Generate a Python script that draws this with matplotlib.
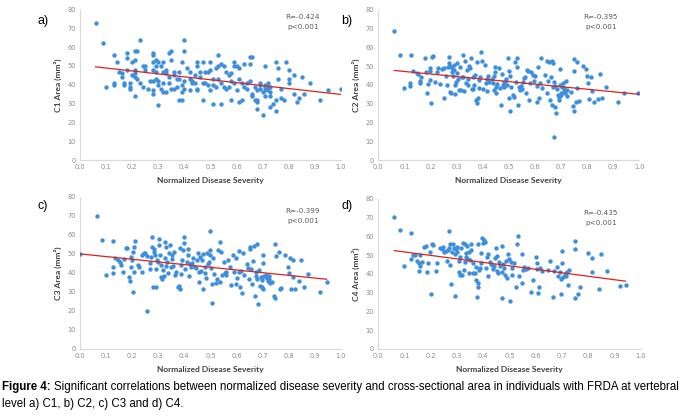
import matplotlib
matplotlib.use("Agg")
import matplotlib.pyplot as plt
import numpy as np

# points: (normalized disease severity, area in mm^2)
c1_points = [
    (0.06, 73), (0.09, 62), (0.10, 39), (0.13, 40), (0.13, 41), (0.13, 56), (0.14, 52), (0.15, 47),
    (0.16, 46), (0.16, 44), (0.17, 41), (0.17, 40), (0.18, 48), (0.18, 57), (0.19, 41), (0.19, 39),
    (0.19, 38), (0.20, 45), (0.18, 54), (0.20, 52), (0.21, 53), (0.21, 48), (0.21, 46), (0.21, 34),
    (0.21, 58), (0.22, 58), (0.21, 44), (0.22, 43), (0.23, 41), (0.23, 64), (0.24, 39), (0.24, 50),
    (0.25, 50), (0.25, 48), (0.26, 38), (0.27, 42), (0.28, 42), (0.28, 57), (0.28, 56), (0.28, 52),
    (0.29, 50), (0.28, 48), (0.28, 37), (0.28, 35), (0.29, 47), (0.29, 43), (0.29, 53), (0.30, 29),
    (0.30, 52), (0.30, 42), (0.30, 40), (0.31, 50), (0.31, 38), (0.32, 47), (0.32, 36), (0.32, 52),
    (0.32, 41), (0.33, 36), (0.33, 48), (0.33, 46), (0.34, 57), (0.34, 44), (0.34, 41), (0.35, 38),
    (0.35, 58), (0.35, 53), (0.36, 45), (0.36, 38), (0.36, 47), (0.37, 43), (0.37, 39), (0.38, 32),
    (0.38, 47), (0.38, 43), (0.39, 32), (0.39, 36), (0.39, 52), (0.39, 40), (0.40, 38), (0.40, 64),
    (0.40, 58), (0.40, 42), (0.41, 49), (0.42, 37), (0.42, 43), (0.42, 47), (0.43, 42), (0.43, 41),
    (0.44, 45), (0.44, 41), (0.45, 52), (0.45, 50), (0.45, 37), (0.45, 38), (0.46, 47), (0.46, 44),
    (0.47, 52), (0.47, 41), (0.47, 32), (0.48, 47), (0.48, 41), (0.49, 40), (0.49, 47), (0.50, 48),
    (0.50, 37), (0.50, 52), (0.51, 40), (0.51, 30), (0.51, 43), (0.52, 49), (0.52, 39), (0.53, 56),
    (0.53, 50), (0.53, 43), (0.54, 30), (0.54, 51), (0.54, 41), (0.55, 50), (0.55, 39), (0.56, 38),
    (0.56, 47), (0.57, 45), (0.57, 39), (0.58, 46), (0.58, 42), (0.58, 32), (0.59, 52), (0.59, 50),
    (0.59, 41), (0.60, 37), (0.60, 50), (0.61, 43), (0.61, 49), (0.61, 31), (0.62, 41), (0.62, 32),
    (0.63, 51), (0.63, 39), (0.64, 41), (0.64, 38), (0.65, 55), (0.65, 51), (0.65, 42), (0.66, 35),
    (0.66, 34), (0.66, 55), (0.67, 39), (0.67, 32), (0.68, 32), (0.68, 37), (0.68, 31), (0.68, 27),
    (0.69, 41), (0.69, 40), (0.69, 38), (0.70, 36), (0.70, 24), (0.71, 50), (0.71, 39), (0.71, 34),
    (0.71, 37), (0.71, 40), (0.72, 39), (0.72, 37), (0.72, 41), (0.73, 36), (0.73, 34), (0.73, 39),
    (0.73, 28), (0.74, 30), (0.75, 26), (0.75, 32), (0.75, 52), (0.76, 43), (0.76, 49), (0.77, 38),
    (0.77, 33), (0.78, 32), (0.79, 52), (0.80, 41), (0.80, 48), (0.80, 43), (0.82, 45), (0.82, 35),
    (0.83, 31), (0.84, 33), (0.85, 44), (0.86, 35), (0.88, 41), (0.92, 32), (0.95, 37), (1.00, 38),
]

c2_points = [
    (0.061, 68.6), (0.083, 56), (0.098, 38.2), (0.121, 39.5), (0.121, 40.9), (0.125, 56), (0.134, 47.6),
    (0.147, 46.6), (0.153, 45.9), (0.160, 42.1), (0.160, 41.2), (0.162, 44.4), (0.179, 54.2), (0.183, 47.1),
    (0.188, 35.6), (0.191, 40.5), (0.198, 48.9), (0.198, 47.6), (0.199, 42.7), (0.201, 30.6), (0.205, 55.1),
    (0.208, 55.5), (0.217, 41.8), (0.224, 47.1), (0.230, 48.9), (0.237, 40.5), (0.243, 48.4), (0.252, 32.9),
    (0.253, 48.9), (0.260, 44.8), (0.262, 40), (0.269, 49.4), (0.272, 55.1), (0.272, 51.9), (0.275, 50.1),
    (0.275, 36.4), (0.279, 35.6), (0.281, 47.1), (0.283, 48.9), (0.288, 44.8), (0.289, 50.7), (0.292, 48),
    (0.294, 35.2), (0.295, 40), (0.297, 41.8), (0.300, 51.9), (0.303, 46.2), (0.307, 43), (0.309, 37.3),
    (0.313, 49.8), (0.317, 37.3), (0.321, 44.4), (0.324, 56), (0.326, 44.4), (0.329, 37), (0.332, 53),
    (0.336, 40.9), (0.339, 48), (0.343, 40), (0.345, 43), (0.349, 50.1), (0.352, 48.9), (0.355, 54.2),
    (0.358, 37.7), (0.362, 44.1), (0.364, 37.7), (0.368, 40), (0.372, 45.3), (0.375, 32), (0.377, 30.6),
    (0.380, 52.4), (0.382, 32.9), (0.384, 38.2), (0.386, 42.7), (0.390, 44.4), (0.395, 57.8), (0.396, 53),
    (0.400, 37.7), (0.407, 50.7), (0.412, 40.9), (0.416, 37), (0.418, 43), (0.422, 44.8), (0.426, 41.8),
    (0.435, 43), (0.439, 40.9), (0.444, 37.3), (0.445, 44.8), (0.448, 47.1), (0.449, 49.6), (0.450, 38.8),
    (0.451, 35.9), (0.454, 40.5), (0.464, 48.9), (0.467, 38.2), (0.471, 29.3), (0.473, 45.9), (0.476, 40),
    (0.480, 41.8), (0.483, 38.8), (0.486, 41.2), (0.490, 43), (0.492, 40), (0.496, 54.2), (0.499, 47.6),
    (0.500, 32.9), (0.504, 26.3), (0.505, 44.8), (0.508, 38.8), (0.515, 34.7), (0.520, 33.4), (0.524, 52.4),
    (0.528, 41.8), (0.531, 49.8), (0.533, 54.2), (0.537, 29.3), (0.541, 38.8), (0.543, 37.3), (0.547, 39.5),
    (0.551, 37.7), (0.554, 41.8), (0.559, 43.6), (0.563, 44.1), (0.566, 35.9), (0.569, 48), (0.575, 47.6),
    (0.579, 32), (0.582, 40.9), (0.587, 47.1), (0.592, 45.3), (0.596, 42.3), (0.601, 44.8), (0.607, 39.5),
    (0.610, 31.1), (0.613, 49.8), (0.616, 32.9), (0.620, 41.2), (0.624, 54.2), (0.628, 38.2), (0.639, 45.3),
    (0.646, 35.9), (0.648, 53), (0.651, 42.3), (0.653, 52.4), (0.659, 32), (0.661, 44.4), (0.664, 53),
    (0.666, 29.3), (0.669, 38.8), (0.671, 51.9), (0.673, 12.1), (0.675, 41.8), (0.678, 28.4), (0.679, 39.5),
    (0.682, 25.2), (0.684, 37.7), (0.687, 34.7), (0.691, 33.4), (0.693, 32), (0.695, 40), (0.697, 48.4),
    (0.699, 35.9), (0.702, 34.7), (0.705, 38.8), (0.707, 40.9), (0.710, 37), (0.712, 38.2), (0.716, 35.9),
    (0.719, 42.3), (0.723, 37.3), (0.725, 34.1), (0.738, 36.4), (0.746, 28.8), (0.748, 26.3), (0.748, 47.6),
    (0.751, 53.7), (0.758, 31.1), (0.761, 52.4), (0.763, 38.2), (0.769, 31.6), (0.784, 50.1), (0.796, 48.4),
    (0.799, 44.8), (0.802, 40.9), (0.807, 32.4), (0.815, 44.1), (0.818, 37), (0.825, 31.1), (0.840, 32.4),
    (0.848, 45.9), (0.857, 32.9), (0.872, 38.8), (0.918, 31.1), (0.942, 35.9), (0.997, 35.9),
]

c3_points = [
    (0.000, 49.7), (0.064, 69.9), (0.084, 57), (0.099, 38.9), (0.125, 40.1), (0.125, 42.9), (0.127, 56.9),
    (0.134, 47.6), (0.146, 46.8), (0.153, 45.9), (0.157, 44.1), (0.163, 40.6), (0.168, 47.1), (0.175, 52.9),
    (0.182, 52.9), (0.188, 37.7), (0.191, 35.9), (0.194, 42.9), (0.197, 48.5), (0.201, 46.8), (0.204, 30.1),
    (0.204, 51.1), (0.206, 53.4), (0.211, 56.9), (0.207, 40.6), (0.224, 44.1), (0.226, 42.9), (0.236, 49.4),
    (0.239, 40.6), (0.245, 50.3), (0.250, 50.3), (0.255, 20.1), (0.257, 48.9), (0.268, 45), (0.270, 41.9),
    (0.274, 48.5), (0.275, 58.7), (0.277, 53.4), (0.280, 32.7), (0.283, 52.4), (0.285, 51.1), (0.288, 49.4),
    (0.290, 41.9), (0.293, 32.4), (0.296, 46.8), (0.298, 45.9), (0.301, 57.6), (0.303, 54.6), (0.306, 49.4),
    (0.310, 44.1), (0.312, 37.7), (0.316, 36.6), (0.318, 41.5), (0.321, 38.4), (0.325, 56.4), (0.326, 47.6),
    (0.329, 43.6), (0.331, 53.4), (0.334, 45.9), (0.338, 39.8), (0.341, 50.3), (0.346, 54.6), (0.349, 42.9),
    (0.352, 47.1), (0.354, 49.4), (0.357, 43.6), (0.359, 51.1), (0.364, 38.9), (0.369, 40.6), (0.376, 32.4),
    (0.380, 33.1), (0.382, 31.7), (0.382, 52.9), (0.386, 39.4), (0.389, 44.1), (0.392, 46.8), (0.395, 52),
    (0.397, 58.7), (0.400, 55.9), (0.403, 41.9), (0.410, 45.9), (0.414, 49.4), (0.415, 52.4), (0.418, 38.4),
    (0.423, 44.7), (0.427, 43.3), (0.431, 45.4), (0.433, 47.6), (0.439, 42.9), (0.446, 42.4), (0.448, 46.8),
    (0.452, 50.3), (0.455, 35.4), (0.456, 40.6), (0.459, 48.5), (0.462, 41.2), (0.466, 46.8), (0.471, 49.9),
    (0.473, 31.7), (0.478, 43.3), (0.480, 39.8), (0.484, 37.1), (0.487, 50.3), (0.490, 44.7), (0.494, 45.9),
    (0.497, 49.4), (0.499, 62.2), (0.499, 52), (0.502, 42.4), (0.504, 34.2), (0.506, 24.3), (0.510, 47.6),
    (0.512, 39.4), (0.520, 34.9), (0.525, 36.6), (0.529, 52), (0.535, 35.4), (0.538, 56.4), (0.541, 51.1),
    (0.545, 38.9), (0.551, 45.9), (0.554, 39.8), (0.558, 40.6), (0.561, 38.9), (0.567, 46.8), (0.573, 43.3),
    (0.580, 33.6), (0.586, 49.4), (0.592, 40.6), (0.596, 47.6), (0.599, 34.2), (0.601, 37.1), (0.609, 51.7),
    (0.611, 40.6), (0.614, 32.7), (0.618, 41.2), (0.619, 29.6), (0.624, 50.6), (0.627, 38.9), (0.640, 44.7),
    (0.643, 42.4), (0.647, 36.6), (0.650, 52.4), (0.652, 53.4), (0.656, 41.9), (0.660, 34.2), (0.662, 46.4),
    (0.665, 54.1), (0.669, 27.8), (0.673, 40.6), (0.675, 38.4), (0.678, 55.2), (0.680, 36.6), (0.683, 23.6),
    (0.685, 41.5), (0.688, 33.1), (0.692, 37.7), (0.696, 32.4), (0.698, 36.3), (0.701, 31.3), (0.701, 49.4),
    (0.703, 45.4), (0.707, 38.4), (0.711, 38.9), (0.713, 37.7), (0.716, 37.1), (0.720, 35.9), (0.723, 38.4),
    (0.726, 36.6), (0.729, 34.5), (0.736, 35.4), (0.745, 27.8), (0.747, 26.6), (0.749, 55.2), (0.752, 48.9),
    (0.762, 51.1), (0.767, 31.3), (0.771, 31.9), (0.787, 49.4), (0.797, 42.9), (0.800, 39.8), (0.803, 47.6),
    (0.810, 31.3), (0.815, 37.7), (0.818, 46.8), (0.825, 31.3), (0.841, 35.9), (0.848, 46.8), (0.857, 32.7),
    (0.874, 39.4), (0.920, 30.1), (0.945, 35.4),
]

c4_points = [
    (0.061, 70.6), (0.082, 63.5), (0.098, 44.3), (0.123, 47.8), (0.126, 61.7), (0.133, 50.1), (0.141, 50.1),
    (0.148, 47.1), (0.154, 41.8), (0.156, 45.7), (0.159, 50.1), (0.160, 44.3), (0.165, 46.6), (0.174, 54.2),
    (0.181, 54.9), (0.187, 41.2), (0.190, 45.7), (0.197, 51.9), (0.199, 29.3), (0.206, 56), (0.209, 55.5),
    (0.220, 41.8), (0.222, 46), (0.235, 53.7), (0.242, 53.2), (0.247, 54.2), (0.250, 51.9), (0.258, 52.4),
    (0.263, 47.1), (0.267, 52.8), (0.269, 53.7), (0.270, 63.1), (0.273, 44.8), (0.275, 56), (0.278, 34.7),
    (0.280, 51.9), (0.283, 56), (0.288, 53.7), (0.291, 28.3), (0.293, 50.7), (0.296, 53.2), (0.298, 51.9),
    (0.301, 54.2), (0.306, 47.1), (0.308, 41.2), (0.311, 48.9), (0.313, 39.5), (0.316, 53.7), (0.319, 39.5),
    (0.324, 56.4), (0.326, 42.1), (0.329, 56), (0.331, 46.6), (0.334, 51), (0.336, 48.9), (0.339, 54.9),
    (0.341, 47.8), (0.344, 40.4), (0.346, 51.9), (0.349, 47.5), (0.353, 52.8), (0.355, 56), (0.359, 40.4),
    (0.362, 46), (0.368, 40.7), (0.372, 36.8), (0.374, 43.6), (0.377, 27.6), (0.378, 35.4), (0.380, 32.9),
    (0.381, 56), (0.385, 42.1), (0.387, 43), (0.391, 46), (0.393, 51.4), (0.397, 59), (0.400, 56.7),
    (0.402, 58.1), (0.407, 57.2), (0.412, 43), (0.415, 49.2), (0.418, 38.9), (0.419, 50.7), (0.425, 46.6),
    (0.431, 45.3), (0.435, 44.8), (0.438, 42.5), (0.440, 44.3), (0.445, 48.4), (0.448, 53.7), (0.451, 41.8),
    (0.453, 49.6), (0.456, 40.4), (0.461, 46.6), (0.463, 44.3), (0.470, 27), (0.472, 41.2), (0.473, 54.9),
    (0.476, 45.3), (0.480, 43), (0.482, 39.5), (0.486, 47.1), (0.491, 37.7), (0.495, 50.7), (0.497, 47.8),
    (0.501, 25.8), (0.504, 46.6), (0.508, 43), (0.511, 39.5), (0.516, 46), (0.523, 33.2), (0.527, 56),
    (0.533, 60.3), (0.537, 38.9), (0.546, 50.7), (0.547, 35.4), (0.552, 42.1), (0.555, 43.6), (0.562, 42.5),
    (0.571, 43), (0.580, 30.6), (0.590, 36.8), (0.599, 49.2), (0.603, 46), (0.605, 42.5), (0.610, 30),
    (0.613, 32.9), (0.616, 43), (0.622, 41.8), (0.647, 42.1), (0.656, 47.1), (0.666, 27.9), (0.669, 41.8),
    (0.679, 43.6), (0.685, 38.9), (0.692, 41.2), (0.695, 29.3), (0.698, 37.2), (0.699, 52.4), (0.700, 45.7),
    (0.704, 38.2), (0.711, 39.5), (0.715, 40.7), (0.717, 38.9), (0.720, 41.2), (0.723, 34.1), (0.727, 42.1),
    (0.749, 57.8), (0.749, 53.2), (0.750, 27.4), (0.761, 29.3), (0.768, 32.9), (0.800, 51), (0.815, 48.4),
    (0.816, 41.2), (0.841, 31.8), (0.850, 50.5), (0.873, 41.8), (0.920, 33.6), (0.942, 34.1),
]

levels = ["C1", "C2", "C3", "C4"]
panel_tags = ["a)", "b)", "c)", "d)"]
r_values = ["-0.424", "-0.395", "-0.399", "-0.435"]
p_text = "p<0.001"
x_ticks = np.arange(0, 1.01, 0.1)
y_ticks = np.arange(0, 81, 10)

all_points = [c1_points, c2_points, c3_points, c4_points]

dot_color = "#3d8fdb"
line_color = "#e0201b"
grey = "#d9d9d9"

fig = plt.figure(figsize=(6.8, 4.18), dpi=100)

# axes rectangles in figure fractions (left, bottom, width, height)
rects = [
    (0.1176, 0.6172, 0.3838, 0.3600),
    (0.5563, 0.6172, 0.3838, 0.3590),
    (0.1176, 0.1651, 0.3838, 0.3644),
    (0.5563, 0.1651, 0.3860, 0.3590),
]
tag_pos = [(43, 21), (347, 21), (43, 206), (347, 206)]
r_pos = [(303, 17), (601, 17), (303, 211), (601, 213)]

W, H = 680.0, 418.0

for i, pts in enumerate(all_points):
    ax = fig.add_axes(rects[i])
    arr = np.array(pts)
    xs, ys = arr[:, 0], arr[:, 1]
    ax.scatter(xs, ys, s=10, color=dot_color, linewidths=0, zorder=3)

    # linear trendline over the data range
    slope, icpt = np.polyfit(xs, ys, 1)
    xl = np.array([xs.min(), xs.max()])
    ax.plot(xl, slope * xl + icpt, color=line_color, lw=0.9, zorder=4)

    ax.set_xlim(0, 1.0)
    ax.set_ylim(0, 80)
    ax.set_xticks(x_ticks)
    ax.set_xticklabels([f"{t:.1f}" for t in x_ticks])
    ax.set_yticks(y_ticks)
    ax.tick_params(labelsize=4.8, colors="#8c8c8c", length=0, pad=3)
    for s in ["top", "right"]:
        ax.spines[s].set_visible(False)
    for s in ["left", "bottom"]:
        ax.spines[s].set_color(grey)
        ax.spines[s].set_linewidth(0.8)

    ax.set_xlabel("Normalized Disease Severity", fontsize=6, fontweight="bold",
                  color="#404040", labelpad=5, family="Lato")
    ax.set_ylabel(levels[i] + " Area (mm²)", fontsize=6, fontweight="bold",
                  color="#404040", labelpad=4, family=["Lato", "DejaVu Sans"])

    tx, ty = tag_pos[i]
    fig.text(tx / W, 1 - ty / H, panel_tags[i], fontsize=9, ha="center", va="center",
             family="Liberation Sans")
    rx, ry = r_pos[i]
    fig.text(rx / W, 1 - ry / H, "R=" + r_values[i], fontsize=5.2, ha="center",
             va="center", color="#595959")
    fig.text(rx / W, 1 - (ry + 10) / H, p_text, fontsize=5.2, ha="center",
             va="center", color="#595959")

# caption: bold lead-in, then the rest placed right after it
cap_size = 8.3
lead = fig.text(2 / W, 1 - 387 / H, "Figure 4:", fontsize=cap_size, fontweight="bold",
                family="Liberation Sans", ha="left", va="center")
fig.canvas.draw()
lead_end = lead.get_window_extent().x1 / fig.bbox.width
rest = fig.text(lead_end + 3 / W, 1 - 387 / H,
                "Significant correlations between normalized disease severity and cross-sectional "
                "area in individuals with FRDA at vertebral",
                fontsize=cap_size, family="Liberation Sans", ha="left", va="center")
# squeeze the long line to the figure width if it runs over
fig.canvas.draw()
ext = rest.get_window_extent()
avail = W - 2 - ext.x0
if ext.width > avail:
    rest.set_fontsize(cap_size * avail / ext.width)
fig.text(2 / W, 1 - 404 / H, "level a) C1, b) C2, c) C3 and d) C4.", fontsize=cap_size,
         family="Liberation Sans", ha="left", va="center")

fig.savefig("out.png", dpi=100)
